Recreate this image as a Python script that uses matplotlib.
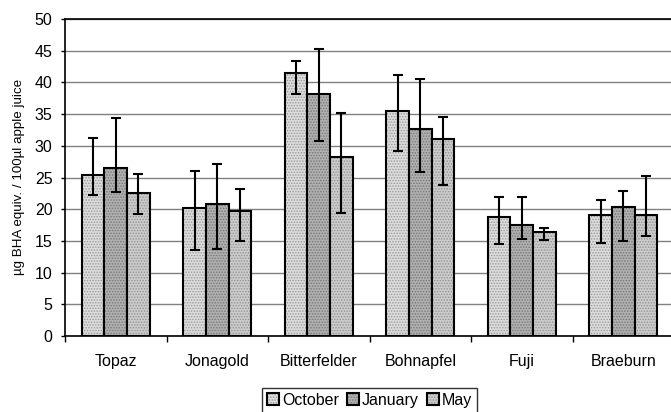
import numpy as np
from matplotlib import pyplot as plt

plt.rcParams['font.family'] = ['Liberation Sans', 'DejaVu Sans']
plt.rcParams['hatch.linewidth'] = 0.7

# apple varieties and the three sampling months
varieties = ["Topaz", "Jonagold", "Bitterfelder", "Bohnapfel", "Fuji", "Braeburn"]
months = ["October", "January", "May"]

# mean values (ug BHA equiv. / 100ul apple juice)
october = [25.4, 20.2, 41.5, 35.5, 18.8, 19.1]
january = [26.5, 20.8, 38.1, 32.7, 17.5, 20.4]
may = [22.5, 19.7, 28.2, 31.0, 16.4, 19.1]

# error bar ends, low / high
october_low = [22.2, 13.5, 38.2, 29.2, 14.5, 14.7]
october_high = [31.2, 26.1, 43.3, 41.2, 22.0, 21.4]
january_low = [22.7, 13.7, 30.8, 25.9, 15.3, 15.0]
january_high = [34.4, 27.1, 45.3, 40.5, 21.9, 22.9]
may_low = [19.3, 15.0, 19.4, 23.8, 15.2, 15.8]
may_high = [25.6, 23.2, 35.2, 34.5, 17.1, 25.2]

series = [(october, october_low, october_high),
          (january, january_low, january_high),
          (may, may_low, may_high)]
face = ["#dcdcdc", "#b0b0b0", "#cccccc"]
hatch_col = ["#999999", "#777777", "#929292"]

fig = plt.figure(figsize=(6.71, 4.12), dpi=100)
ax = fig.add_axes([65 / 671, 1 - 336 / 412, 609 / 671, 317 / 412])

x = np.arange(len(varieties))
w = 0.222
for i, (vals, lo, hi) in enumerate(series):
    pos = x + (i - 1) * w
    vals = np.array(vals)
    yerr = [vals - np.array(lo), np.array(hi) - vals]
    bars = ax.bar(pos, vals, w, color=face[i], edgecolor="black", linewidth=1.5,
                  label=months[i], zorder=2)
    for b in bars:
        b.set_hatch("......")
        b._hatch_color = plt.matplotlib.colors.to_rgba(hatch_col[i])
    ax.errorbar(pos, vals, yerr=yerr, fmt="none", ecolor="black", elinewidth=1.5,
                capsize=3.3, capthick=1.5, zorder=3)

ax.set_xlim(-0.5, len(varieties) - 0.5)
ax.set_ylim(0, 50)
ax.set_yticks(range(0, 51, 5))
ax.yaxis.grid(True, color="#808080", linewidth=1.0, zorder=0)
ax.set_axisbelow(True)

ax.set_xticks(x)
ax.set_xticklabels(varieties, fontsize=11.5)
ax.set_xticks(np.arange(-0.5, len(varieties), 1), minor=True)
ax.tick_params(axis='x', which='major', length=0, pad=13)
ax.tick_params(axis='x', which='minor', length=4, width=1, direction='out')
ax.tick_params(axis='y', labelsize=11.5, length=3, width=1, direction='out', pad=6)

ax.spines['right'].set_visible(False)
ax.spines['top'].set_linestyle((0, (1, 1)))
ax.spines['top'].set_linewidth(1.2)
ax.spines['left'].set_linewidth(1.2)
ax.spines['bottom'].set_linewidth(1.2)

fig.text(19 / 671, 1 - 177 / 412, "\u00b5g BHA equiv. / 100\u00b5l apple juice",
         rotation=90, ha="center", va="center", fontsize=9.6)

leg = fig.legend(loc="upper center", bbox_to_anchor=(369.5 / 671, 1 - 388 / 412),
                 ncol=3, fontsize=11.5, frameon=True, fancybox=False,
                 handlelength=0.75, handleheight=0.75, handletextpad=0.2,
                 columnspacing=0.5, borderpad=0.3, borderaxespad=0)
leg.get_frame().set_edgecolor("black")
leg.get_frame().set_linewidth(1.0)

fig.savefig("out.png", dpi=100)
